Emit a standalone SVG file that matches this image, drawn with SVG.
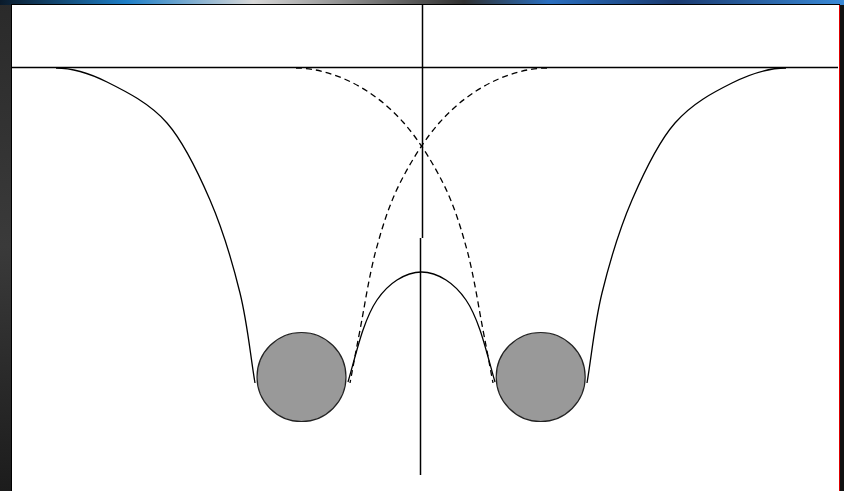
<svg xmlns="http://www.w3.org/2000/svg" width="844" height="491" viewBox="0 0 844 491">
<defs>
<linearGradient id="lg" x1="0" y1="0" x2="0" y2="1">
<stop offset="0" stop-color="#2a2a2a"/>
<stop offset="0.5" stop-color="#3a3a3a"/>
<stop offset="1" stop-color="#1c1c1c"/>
</linearGradient>
<linearGradient id="tg" x1="0" y1="0" x2="1" y2="0">
<stop offset="0" stop-color="#0a1a2a"/>
<stop offset="0.15" stop-color="#1e7fc8"/>
<stop offset="0.3" stop-color="#d8d8d8"/>
<stop offset="0.55" stop-color="#303030"/>
<stop offset="0.65" stop-color="#2a6fc0"/>
<stop offset="0.8" stop-color="#1a3a70"/>
<stop offset="1" stop-color="#3a8ad8"/>
</linearGradient>
<style>
.ax{stroke:#000;stroke-width:1.5;fill:none}
.cv{stroke:#000;stroke-width:1.3;fill:none}
.ds{stroke:#000;stroke-width:1.3;fill:none;stroke-dasharray:6 4}
.ball{fill:#999;stroke:#222;stroke-width:1.2}
</style>
</defs>
<rect x="0" y="0" width="844" height="491" fill="#111"/>
<rect x="0" y="0" width="12" height="491" fill="url(#lg)"/>
<rect x="0" y="0" width="844" height="5" fill="url(#tg)"/>
<rect x="11" y="4" width="829" height="487" fill="#000"/>
<rect x="12" y="5" width="827" height="486" fill="#fff"/>
<line x1="839.5" y1="5" x2="839.5" y2="491" stroke="#d00" stroke-width="1"/>
<g id="axes">
<line class="ax" x1="12" y1="67.5" x2="838" y2="67.5"/>
<line class="ax" x1="422.5" y1="5" x2="422.5" y2="238"/>
<line class="ax" x1="420.5" y1="238" x2="420.5" y2="475"/>
</g>
<g id="curves">
<path class="cv" d="M56,68 C73,68 88.5,72.8 107,82 C125.5,91.2 149.8,103.3 167,123 C184.2,142.7 197.8,171.7 210,200 C222.2,228.3 232.5,262.5 240,293 C247.5,323.5 250,353 255,383"/>
<path class="cv" d="M786,68 C769,68 751,73.5 732,83 C713,92.5 692.2,103.3 675,123 C657.8,142.7 644.2,171.7 632,200 C619.8,228.3 609.5,262.5 602,293 C594.5,323.5 592,353 587,383"/>
<path class="cv" d="M348,382 C353,364.7 358.2,343.7 363,330 C367.8,316.3 371.3,308.3 377,300 C382.7,291.7 389.6,284.7 397,280 C404.4,275.3 411.5,272 421.5,272 C431.5,272 438.6,275.3 446,280 C453.4,284.7 460.3,291.7 466,300 C471.7,308.3 475.2,316.3 480,330 C484.8,343.7 490,364.7 495,382"/>
<path class="ds" d="M296,68 C315,68 335.2,74 353,83 C370.8,92 388,105.3 403,122 C418,138.7 432.3,161.7 443,183 C453.7,204.3 460.3,225.5 467,250 C473.7,274.5 478.7,307.8 483,330 C487.3,352.2 489.7,365.3 493,383"/>
<path class="ds" d="M547,68 C528,68 507.8,74 490,83 C472.2,92 455,105.3 440,122 C425,138.7 410.7,161.7 400,183 C389.3,204.3 382.7,225.5 376,250 C369.3,274.5 364.3,307.8 360,330 C355.7,352.2 353.3,365.3 350,383"/>
</g>
<g id="ball-left"><circle class="ball" cx="301.5" cy="377" r="44.5"/></g>
<g id="ball-right"><circle class="ball" cx="540.7" cy="377" r="44.5"/></g>
</svg>
